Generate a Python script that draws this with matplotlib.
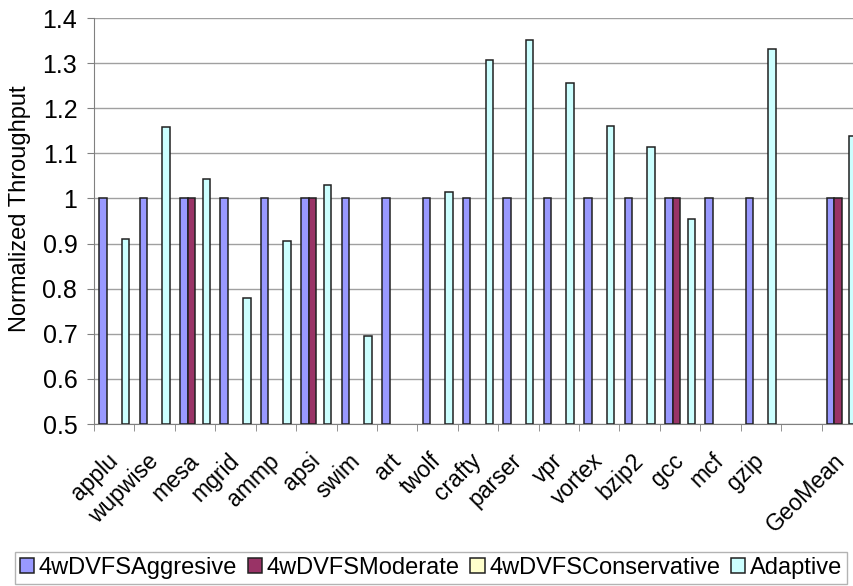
import numpy as np
import matplotlib.pyplot as plt
import matplotlib.transforms as mtransforms
from matplotlib.ticker import FuncFormatter, MultipleLocator

plt.rcParams['font.family'] = ['Liberation Sans', 'DejaVu Sans']

benchmarks = ['applu', 'wupwise', 'mesa', 'mgrid', 'ammp', 'apsi', 'swim', 'art',
              'twolf', 'crafty', 'parser', 'vpr', 'vortex', 'bzip2', 'gcc', 'mcf',
              'gzip', '', 'GeoMean']
nan = np.nan
aggressive = [1, 1, 1, 1, 1, 1, 1, 1, 1, 1, 1, 1, 1, 1, 1, 1, 1, nan, 1]
moderate = [nan, nan, 1, nan, nan, 1, nan, nan, nan, nan, nan, nan, nan, nan,
            1, nan, nan, nan, 1]
conservative = [nan] * 19
adaptive = [0.910, 1.159, 1.042, 0.780, 0.906, 1.029, 0.694, nan, 1.014, 1.307,
            1.351, 1.257, 1.161, 1.113, 0.954, nan, 1.332, nan, 1.138]

series = [('4wDVFSAggresive', aggressive, '#9999FF'),
          ('4wDVFSModerate', moderate, '#993366'),
          ('4wDVFSConservative', conservative, '#FFFFCC'),
          ('Adaptive', adaptive, '#CCFFFF')]

fig = plt.figure(figsize=(8.54, 5.86), dpi=100)
# plot area runs past the right edge of the picture, as in the original
ax = fig.add_axes([94 / 854, 1 - 424 / 586, 768 / 854, 406 / 586])

x = np.arange(len(benchmarks))
w = 0.186
for i, (name, vals, col) in enumerate(series):
    vals = np.array(vals, dtype=float)
    ax.bar(x + (i - 1.5) * w, vals - 0.5, bottom=0.5, width=w, color=col,
           edgecolor='#202020', linewidth=1.1, label=name, zorder=3)

ax.set_xlim(-0.5, len(benchmarks) - 0.5)
ax.set_ylim(0.5, 1.4)
ax.yaxis.set_major_locator(MultipleLocator(0.1))
ax.yaxis.set_major_formatter(FuncFormatter(lambda v, p: '%g' % round(v, 2)))
ax.grid(axis='y', color='#A0A0A0', linewidth=1, zorder=0)

ax.set_xticks(x)
ax.set_xticklabels(benchmarks, rotation=45, ha='right', va='center',
                   rotation_mode='anchor', fontsize=16.5)
shift = mtransforms.ScaledTranslation(-7 / 100, 0, fig.dpi_scale_trans)
for lab in ax.get_xticklabels():
    lab.set_transform(lab.get_transform() + shift)
ax.set_xticks(np.arange(-0.5, len(benchmarks)), minor=True)
ax.tick_params(axis='x', which='major', length=0, pad=24)
ax.tick_params(axis='x', which='minor', length=5, color='#808080', direction='out')
ax.tick_params(axis='y', labelsize=18, length=5, color='#808080', pad=7)

for s in ['top', 'right']:
    ax.spines[s].set_visible(False)
for s in ['left', 'bottom']:
    ax.spines[s].set_color('#808080')

ax.set_ylabel('Normalized Throughput', fontsize=17)
ax.yaxis.set_label_coords(-0.082, 0.53)

leg = fig.legend(loc='center', bbox_to_anchor=(431 / 854, 1 - 568 / 586), ncol=4,
                 fontsize=17, frameon=True, fancybox=False, edgecolor='#A0A0A0',
                 handlelength=0.6, handleheight=0.6, handletextpad=0.2,
                 columnspacing=0.45, borderpad=0.2, borderaxespad=0)
leg.get_frame().set_linewidth(1)

fig.savefig('out.png', dpi=100)
